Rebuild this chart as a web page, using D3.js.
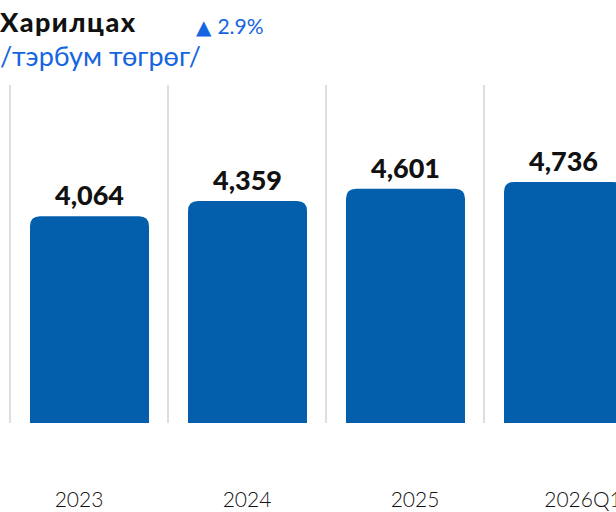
<!DOCTYPE html>
<html><head><meta charset="utf-8">
<script src="https://cdn.jsdelivr.net/npm/d3@7"></script>
<style>html,body{margin:0;padding:0;background:#fff;overflow:hidden}</style>
</head><body>
<svg id="c" width="616" height="512"></svg>
<script>
const categories = ["2023", "2024", "2025", "2026Q1"];
const values = [4064, 4359, 4601, 4736];
const title = "Харилцах";
const arrow = "▲";
const change = "2.9%";
const unit = "/тэрбум төгрөг/";

const svg = d3.select("#c");
const font = "Lato, 'Noto Sans', sans-serif";
const blue = "#035FAB";
const accent = "#1565E0";

const x = d3.scaleBand().domain(categories).range([10, 642]).paddingInner(0).paddingOuter(0);
const y = d3.scaleLinear().domain([0, 6640]).range([423, 85]);
const xl = d3.scaleBand().domain(categories).range([-5, 667]);

// separators
svg.selectAll("line.sep").data(categories).enter().append("line")
  .attr("x1", d => x(d)).attr("x2", d => x(d))
  .attr("y1", y.range()[1]).attr("y2", y.range()[0])
  .attr("stroke", "#dedede").attr("stroke-width", 2);

const bw = 119, off = 20, r = 10;
function barPath(d, i) {
  const x0 = x(d) + off, x1 = x0 + bw, y0 = y(values[i]), yb = y(0);
  return `M${x0},${yb}V${y0 + r}Q${x0},${y0} ${x0 + r},${y0}H${x1 - r}Q${x1},${y0} ${x1},${y0 + r}V${yb}Z`;
}
svg.selectAll("path.bar").data(categories).enter().append("path")
  .attr("d", barPath).attr("fill", blue);

svg.selectAll("text.val").data(categories).enter().append("text")
  .attr("x", d => x(d) + off + bw / 2).attr("y", (d, i) => y(values[i]) - 11)
  .attr("text-anchor", "middle").attr("font-family", font).attr("font-weight", 900)
  .attr("font-size", 27).attr("fill", "#111")
  .text((d, i) => d3.format(",")(values[i]));

svg.selectAll("text.cat").data(categories).enter().append("text")
  .attr("x", d => xl(d) + xl.bandwidth() / 2).attr("y", 507)
  .attr("text-anchor", "middle").attr("font-family", font).attr("font-weight", 300)
  .attr("font-size", 21).attr("fill", "#111").text(d => d);

svg.append("text").attr("x", 0).attr("y", 32).attr("font-family", font)
  .attr("font-weight", 900).attr("font-size", 27).attr("letter-spacing", 1.5)
  .attr("fill", "#111").text(title);
const ch = svg.append("text").attr("x", 196).attr("y", 34).attr("font-family", font)
  .attr("fill", accent);
ch.append("tspan").attr("font-size", 20).attr("font-family", "'DejaVu Sans', sans-serif").text(arrow);
ch.append("tspan").attr("dx", 6).attr("font-size", 21).text(change);
svg.append("text").attr("x", 0).attr("y", 66).attr("font-family", font)
  .attr("font-weight", 400).attr("font-size", 27).attr("fill", accent).text(unit);
</script>
</body></html>
